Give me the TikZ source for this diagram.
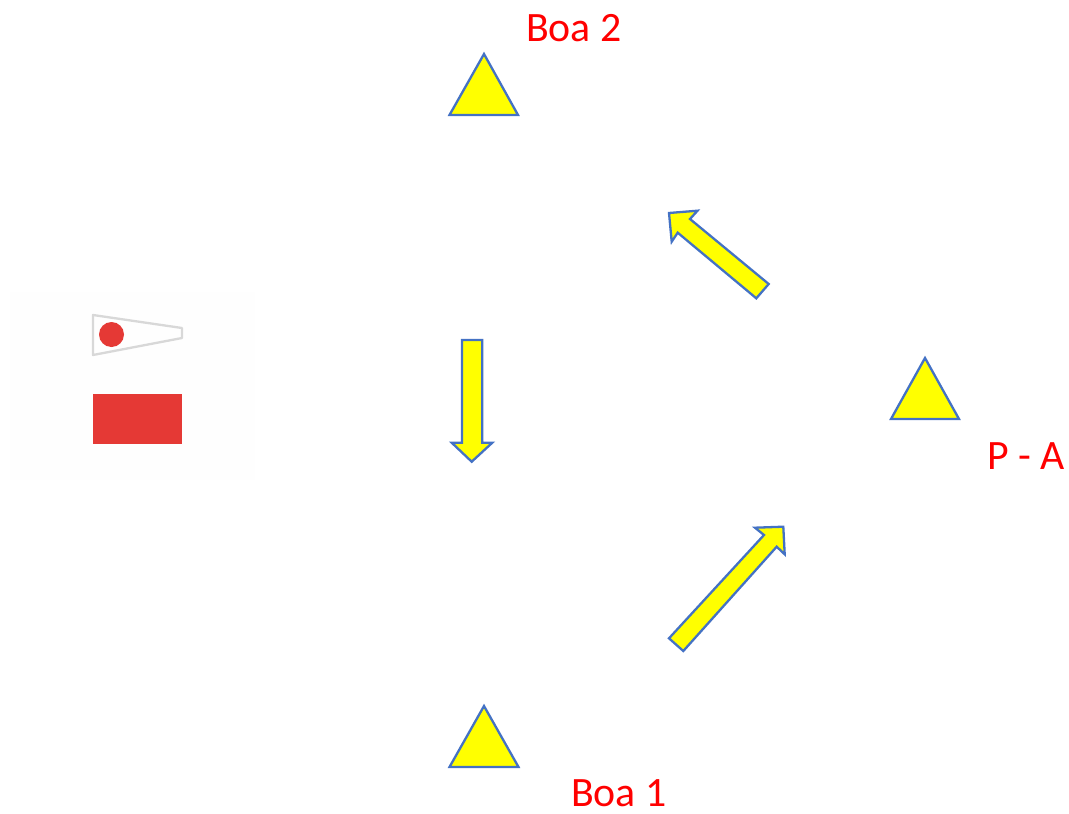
\documentclass[tikz,border=0pt]{standalone}
\usepackage{fontspec}
\setmainfont{Carlito}
\definecolor{buoyfill}{RGB}{255,255,0}
\definecolor{buoyline}{RGB}{68,114,196}
\definecolor{flagred}{RGB}{229,57,53}
\definecolor{flagline}{RGB}{216,216,216}
\definecolor{panel}{RGB}{254,254,254}
\tikzset{
  buoy/.style={fill=buoyfill,draw=buoyline,line width=2.3pt,line join=miter},
  course/.style={fill=buoyfill,draw=buoyline,line width=2.3pt,line join=miter},
  boatlabel/.style={text=red,font=\fontsize{41.8}{45}\selectfont,inner sep=0pt,anchor=base west},
}
\begin{document}
\begin{tikzpicture}[x=1pt,y=-1pt]
\useasboundingbox (0,0) rectangle (1069,814);
% flag panel
\fill[panel] (10,292) rectangle (255,480);
\draw[flagline,line width=2.3pt,line join=round] (93,315) -- (182,328) -- (182,338) -- (93,355) -- cycle;
\fill[flagred] (111.5,334.5) circle (12.5);
\fill[flagred] (93,394) rectangle (182,444);
% buoys
\draw[buoy] (484,54) -- (518,115) -- (449.5,115) -- cycle;
\draw[buoy] (484,706) -- (518.5,767) -- (449.5,767) -- cycle;
\draw[buoy] (925,358) -- (959,419) -- (891,419) -- cycle;
% course arrows
\draw[course] (669,213) -- (697.5,210.7) -- (690,219) -- (768.7,284) -- (756.3,298.3) -- (677.7,232.7) -- (671.7,241.7) -- cycle;
\draw[course] (783.3,526.7) -- (755,527.7) -- (764,535) -- (669,638.3) -- (683.3,651) -- (776.7,546.7) -- (784.7,554.3) -- cycle;
\draw[course] (462,340) -- (482.3,340) -- (482.3,442.7) -- (492.3,442.7) -- (471.7,461.7) -- (451.7,442.7) -- (462,442.7) -- cycle;
% labels
\node[boatlabel] (boa2) at (526,41) {Boa 2};
\node[boatlabel] (boa1) at (571,806) {Boa 1};
\node[boatlabel] (pa) at (987,469) {P - A};
\end{tikzpicture}
\end{document}
